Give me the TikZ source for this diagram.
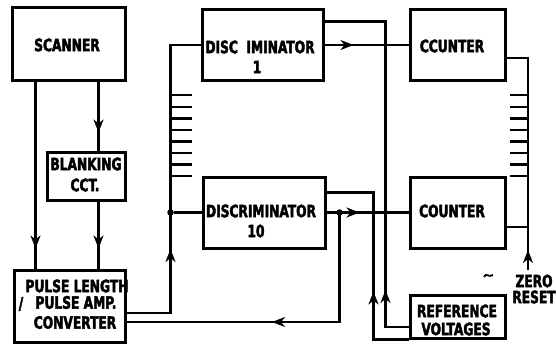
\documentclass[tikz,border=0pt]{standalone}
\usepackage{fontspec}
\setmainfont{DejaVu Sans Condensed}[FakeStretch=0.8,BoldFeatures={FakeBold=2.5}]
\usetikzlibrary{arrows.meta,decorations.markings,calc}
\begin{document}
\begin{tikzpicture}[x=1pt,y=-1pt,
  blk/.style={draw,line width=3pt,inner sep=0pt},
  lab/.style={font=\bfseries\fontsize{17}{17}\selectfont,inner sep=0pt},
  wire/.style={line width=2.2pt},
  arr/.style={postaction={decorate},decoration={markings,mark=at position #1 with {\arrow{Stealth[length=13pt,width=10pt,inset=4pt]}}}},
  dotn/.style={circle,fill,inner sep=0pt,minimum size=6.5pt}]
\useasboundingbox (0,0) rectangle (556,345);
% boxes
\node[blk,minimum width=113pt,minimum height=72pt] (scanner) at (68.5,44) {};
\node[blk,minimum width=78pt,minimum height=48pt] (blank) at (86,176) {};
\node[blk,minimum width=111pt,minimum height=72pt] (pulse) at (69.5,306) {};
\node[blk,minimum width=121pt,minimum height=70pt] (disc1) at (262.5,45) {};
\node[blk,minimum width=122pt,minimum height=71pt] (disc10) at (264,212.5) {};
\node[blk,minimum width=95pt,minimum height=70pt] (ccunter) at (457.5,45) {};
\node[blk,minimum width=95pt,minimum height=71pt] (counter) at (457.5,212.5) {};
\node[blk,minimum width=95pt,minimum height=43pt] (ref) at (457.5,316.5) {};
% labels
\node[lab] (t1) at (67,45) {SCANNER};
\node[lab] (t2) at (86,164) {BLANKING};
\node[lab] (t3) at (85,185) {CCT.};
\node[lab] (t4) at (77,286) {PULSE LENGTH};
\node[lab] (t5) at (21,304) {/};
\node[lab] (t6) at (76,302.5) {PULSE AMP.};
\node[lab] (t7) at (75,322.5) {CONVERTER};
\node[lab] (t8) at (260,47) {DISC\ \ IMINATOR};
\node[lab] (t9) at (257,67) {1};
\node[lab] (t10) at (261,211) {DISCRIMINATOR};
\node[lab] (t11) at (256,231) {10};
\node[lab] (t12) at (452,46) {CCUNTER};
\node[lab] (t13) at (452,211) {COUNTER};
\node[lab] (t14) at (457,311) {REFERENCE};
\node[lab] (t15) at (456,329) {VOLTAGES};
\node[lab] (t16) at (534,281) {ZERO};
\node[lab] (t17) at (534,297) {RESET};
% connectors
\draw[wire,arr=167pt] ($(scanner.south west)+(25,0)$) -- ($(pulse.north west)+(23,0)$);
\draw[wire,arr=51pt] ($(scanner.south west)+(88,0)$) -- ($(blank.north west)+(53,0)$);
\draw[wire,arr=47pt] ($(blank.south west)+(53,0)$) -- ($(pulse.north west)+(86,0)$);
\draw[wire,arr=108pt] ($(pulse.east)+(0,7)$) -| ($(disc1.west)+(-30,0)$) -- (disc1.west);
\node[dotn] (d1) at ($(disc10.west)+(-31,0)$) {};
\draw[wire] (d1) -- (disc10.west);
\draw[wire,arr=33pt] (disc10.east) -- (counter.west);
\node[dotn] (d2) at ($(disc10.east)+(13,0)$) {};
\draw[wire,arr=177pt] (d2.center) |- ($(pulse.east)+(0,16)$);
\draw[wire,arr=29pt] (disc1.east) -- (ccunter.west);
\draw[wire,arr=60pt] ($(ref.west)+(0,10.5)$) -| ($(disc1.north east)+(61,13)$) -- ($(disc1.north east)+(0,13)$);
\draw[wire,arr=83pt] (ref.south west) -| ($(disc10.north east)+(47,17)$) -- ($(disc10.north east)+(0,17)$);
\coordinate (zr) at (528,270);
\draw[wire,arr=20pt] (zr) |- ($(ccunter.east)+(0,13)$);
\draw[wire] ($(counter.east)+(0,14.5)$) -| (zr);
% ladders
\foreach \yy in {95,107,118.5,130,141.5,153,164.5,176} {
  \draw[wire] (172,\yy) -- (192,\yy);
  \draw[wire] (510,\yy) -- (528,\yy);
}
% small scan mark
\draw[line width=1.8pt] (484,277) .. controls (486,272) and (489,278) .. (493,275);
\end{tikzpicture}
\end{document}
